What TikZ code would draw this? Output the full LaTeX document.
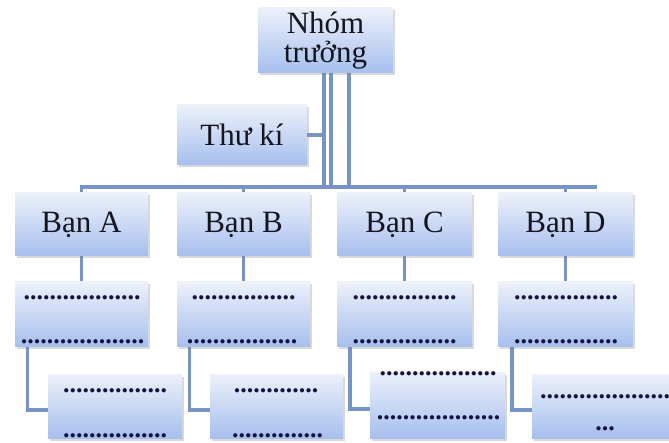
\documentclass[tikz,border=0pt]{standalone}
\usepackage{fontspec}
\setmainfont{Liberation Serif}
\usepackage{tikz}
\usetikzlibrary{shadows,backgrounds}

\definecolor{boxtop}{HTML}{ECF1FA}
\definecolor{boxbot}{HTML}{A6BFEE}
\definecolor{linkblue}{HTML}{7893C6}
\definecolor{inkdark}{HTML}{15151F}

\newcommand{\dotrow}[1]{\foreach\k in {1,...,#1}{.}}

\begin{document}
\begin{tikzpicture}[x=1pt,y=-1pt,
  card/.style={rectangle,top color=boxtop,bottom color=boxbot,draw=none,
    drop shadow={opacity=0.3,shadow xshift=1.5pt,shadow yshift=-2.5pt},
    inner sep=0pt,text=inkdark,font=\fontsize{31}{28.5}\selectfont,align=center},
  link/.style={draw=linkblue,line width=3.5pt},
  dots/.style={anchor=base,inner sep=0pt,text=inkdark!85!blue,font=\bfseries\fontsize{26}{26}\selectfont}]

 \useasboundingbox (0,0) rectangle (669,443);

 \coordinate (busL) at (80,187);
 \coordinate (busR) at (597,187);

 \node[card,minimum width=135,minimum height=65] (lead) at (325.5,40.5) {Nhóm\\trưởng};
 \node[card,minimum width=130,minimum height=60] (secr) at (242,135) {Thư kí};

 \node[card,minimum width=133,minimum height=63] (banA) at (81.5,224.5) {Bạn A};
 \node[card,minimum width=133,minimum height=63] (banB) at (243.5,224.5) {Bạn B};
 \node[card,minimum width=135,minimum height=63] (banC) at (404.5,224.5) {Bạn C};
 \node[card,minimum width=135,minimum height=63] (banD) at (565.5,224.5) {Bạn D};

 \node[card,minimum width=133,minimum height=65] (taskA1) at (81.5,314.5) {};
 \node[card,minimum width=133,minimum height=65] (taskB1) at (243.5,314.5) {};
 \node[card,minimum width=135,minimum height=65] (taskC1) at (404.5,314.5) {};
 \node[card,minimum width=135,minimum height=65] (taskD1) at (565.5,314.5) {};

 \node[card,minimum width=134,minimum height=64] (taskA2) at (115,406) {};
 \node[card,minimum width=133,minimum height=64] (taskB2) at (276.5,406) {};
 \node[card,minimum width=135,minimum height=66] (taskC2) at (437.5,405) {};
 \node[card,minimum width=137,minimum height=64] (taskD2) at (600.5,406) {};

 % connectors behind the boxes
 \begin{scope}[on background layer]
 \draw[link] (busL) -- (busR);
 \draw[link] ([xshift=-1.5pt]lead.south) -- ([xshift=-1.5pt]lead.south |- busL);
 \draw[link] ([xshift=5.5pt]lead.south) -- ([xshift=5.5pt]lead.south |- busL);
 \draw[link] ([xshift=23.5pt]lead.south) -- ([xshift=23.5pt]lead.south |- busL);
 \draw[link] (secr.east) -- ([xshift=-1.5pt]lead.south |- secr.east);
 \draw[link] (banA.north) -- (banA.north |- busL);
 \draw[link] (banB.north) -- (banB.north |- busL);
 \draw[link] (banC.north) -- (banC.north |- busL);
 \draw[link] (banD.north) -- (banD.north |- busL);
 \draw[link] (banA.south) -- (taskA1.north);
 \draw[link] (banB.south) -- (taskB1.north);
 \draw[link] (banC.south) -- (taskC1.north);
 \draw[link] (banD.south) -- (taskD1.north);
 \draw[link] ([xshift=12.5pt]taskA1.south west) |- ([yshift=-4pt]taskA2.west);
 \draw[link] ([xshift=12.5pt]taskB1.south west) |- ([yshift=-4pt]taskB2.west);
 \draw[link] ([xshift=13pt]taskC1.south west) |- ([yshift=-4pt]taskC2.west);
 \draw[link] ([xshift=14pt]taskD1.south west) |- ([yshift=-4pt]taskD2.west);
 \end{scope}

 \node[dots] (dA1a) at (82,300) {\dotrow{18}};
 \node[dots] (dA1b) at (82.5,344) {\dotrow{19}};
 \node[dots] (dB1a) at (243.5,300) {\dotrow{16}};
 \node[dots] (dB1b) at (242,344) {\dotrow{17}};
 \node[dots] (dC1a) at (404.5,300) {\dotrow{16}};
 \node[dots] (dC1b) at (404.5,344) {\dotrow{16}};
 \node[dots] (dD1a) at (566,300) {\dotrow{16}};
 \node[dots] (dD1b) at (566,344) {\dotrow{16}};

 \node[dots] (dA2a) at (115,392) {\dotrow{16}};
 \node[dots] (dA2b) at (115,437) {\dotrow{16}};
 \node[dots] (dB2a) at (276,392) {\dotrow{13}};
 \node[dots] (dB2b) at (277.5,437) {\dotrow{14}};
 \node[dots] (dC2a) at (438,375) {\dotrow{18}};
 \node[dots] (dC2b) at (438.5,419) {\dotrow{19}};
 \node[dots] (dD2a) at (605,398) {\dotrow{20}};
 \node[dots] (dD2b) at (605,430) {\dotrow{3}};
\end{tikzpicture}
\end{document}
